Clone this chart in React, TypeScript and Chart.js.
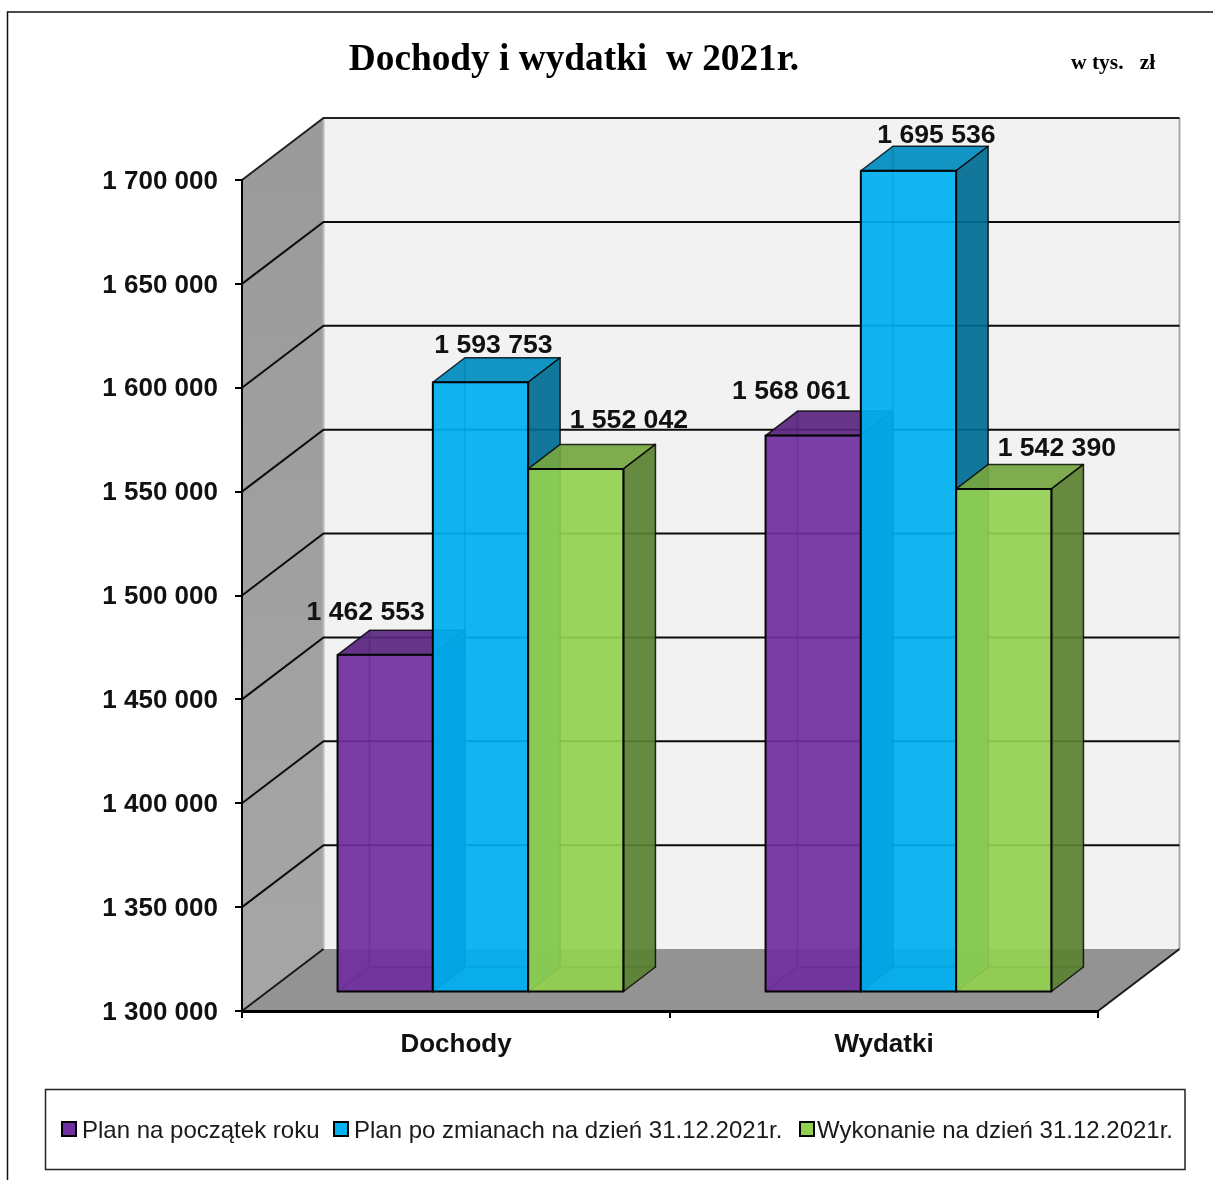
import React, { useEffect, useRef } from "react";
import { Chart, registerables } from "chart.js";

Chart.register(...registerables);

const categories = ["Dochody", "Wydatki"];
const planStart = [1462553, 1568061];
const planChanged = [1593753, 1695536];
const execution = [1552042, 1542390];
const seriesNames = [
  "Plan na początek roku",
  "Plan po zmianach na dzień 31.12.2021r.",
  "Wykonanie na dzień 31.12.2021r.",
];
const seriesRgb = [
  [112, 48, 160],
  [0, 176, 240],
  [146, 208, 80],
];
const titleText = "Dochody i wydatki  w 2021r.";
const unitText = "w tys.   zł";
const yMin = 1300000;
const yMax = 1700000;
const yStep = 50000;

// Hand-placed offsets of the value labels, [dataset][category], from the bar's front top centre.
const labelNudge = [
  [[-19.5, -42], [-22, -44]],
  [[13, -37], [28, -35]],
  [[53, -48], [53, -40]],
];
const legendSwatchX = [62, 334, 800];
const legendTextX = [82, 354, 817];

const WALL_DX = 81.5;
const WALL_DY = -62;
const BAR_SHIFT_X = 24.5;
const BAR_SHIFT_Y = -18.5;
const BAR_DX = 32;
const BAR_DY = -24.5;
const ALPHA = 0.92;

const SANS = '"Liberation Sans", Arial, sans-serif';
const SERIF = '"Liberation Serif", "Times New Roman", serif';

const spaced = (v: number) => String(v).replace(/\B(?=(\d{3})+$)/g, " ");
const shade = (rgb: number[], f: number, a = ALPHA) =>
  `rgba(${Math.round(rgb[0] * f)},${Math.round(rgb[1] * f)},${Math.round(rgb[2] * f)},${a})`;

function poly(ctx: CanvasRenderingContext2D, pts: number[][]) {
  ctx.beginPath();
  pts.forEach((p, i) => (i ? ctx.lineTo(p[0], p[1]) : ctx.moveTo(p[0], p[1])));
  ctx.closePath();
}

function barBox(el: any) {
  const w = el.width;
  const l = el.x - w / 2 + BAR_SHIFT_X;
  const r = el.x + w / 2 + BAR_SHIFT_X;
  const t = el.y + BAR_SHIFT_Y;
  const b = el.base + BAR_SHIFT_Y;
  return { l, r, t, b };
}

const scene3d = {
  id: "scene3d",
  beforeDraw(chart: any) {
    const ctx: CanvasRenderingContext2D = chart.ctx;
    const { left, right, bottom, top } = chart.chartArea;
    const bl = left + WALL_DX;
    const br = right + WALL_DX;
    const bt = top + WALL_DY;
    const bb = bottom + WALL_DY;

    // digits sit slightly low in the reference: nudge the native y tick labels
    const ys = chart.scales.y;
    if (!ys.__nudged) {
      const orig = ys.drawLabels.bind(ys);
      ys.drawLabels = (a: any) => {
        ctx.save();
        ctx.translate(0, 1.5);
        orig(a);
        ctx.restore();
      };
      ys.__nudged = true;
    }

    ctx.save();
    ctx.fillStyle = "#fff";
    ctx.fillRect(0, 0, chart.width, chart.height);

    // page frame
    ctx.strokeStyle = "#111";
    ctx.lineWidth = 1.5;
    ctx.beginPath();
    ctx.moveTo(7.5, chart.height);
    ctx.lineTo(7.5, 12);
    ctx.lineTo(chart.width, 12);
    ctx.stroke();

    // back wall
    ctx.fillStyle = "#f2f2f2";
    ctx.fillRect(bl, bt, br - bl, bb - bt);
    // left wall
    const g = ctx.createLinearGradient(0, top, 0, bottom);
    g.addColorStop(0, "#9b9b9b");
    g.addColorStop(1, "#a6a6a6");
    ctx.fillStyle = g;
    poly(ctx, [[left, top], [bl, bt], [bl, bb], [left, bottom]]);
    ctx.fill();
    // floor
    ctx.fillStyle = "#939393";
    poly(ctx, [[left, bottom], [bl, bb], [br, bb], [right, bottom]]);
    ctx.fill();

    // wall edges
    ctx.strokeStyle = "#b8b8b8";
    ctx.lineWidth = 2;
    ctx.beginPath();
    ctx.moveTo(bl, bt);
    ctx.lineTo(bl, bb);
    ctx.stroke();
    ctx.strokeStyle = "#a8a8a8";
    ctx.beginPath();
    ctx.moveTo(br, bt);
    ctx.lineTo(br, bb);
    ctx.stroke();
    ctx.strokeStyle = "#1a1a1a";
    ctx.beginPath();
    ctx.moveTo(left, bottom);
    ctx.lineTo(bl, bb);
    ctx.moveTo(right, bottom);
    ctx.lineTo(br, bb);
    ctx.stroke();

    // grid lines from the axis ticks
    const y = chart.scales.y;
    y.ticks.forEach((t: any) => {
      if (t.value === yMin) return;
      const py = y.getPixelForValue(t.value);
      ctx.strokeStyle = t.value === yMax ? "#222" : "#0c0c0c";
      ctx.lineWidth = 2;
      ctx.beginPath();
      ctx.moveTo(left, py);
      ctx.lineTo(bl, py + WALL_DY);
      ctx.lineTo(br, py + WALL_DY);
      ctx.stroke();
    });

    // heading
    ctx.fillStyle = "#000";
    ctx.textBaseline = "middle";
    ctx.textAlign = "center";
    ctx.font = `bold 37.3px ${SERIF}`;
    ctx.fillText(titleText, 574, 60);
    ctx.font = `bold 21.5px ${SERIF}`;
    ctx.textAlign = "left";
    ctx.fillText(unitText, 1071, 63.5);
    ctx.restore();
  },
  // Datasets are painted left to right so that later boxes overlap earlier ones.
  beforeDatasetsDraw(chart: any) {
    const ctx: CanvasRenderingContext2D = chart.ctx;
    ctx.save();
    chart.data.datasets.forEach((_: any, di: number) => {
      const meta = chart.getDatasetMeta(di);
      const rgb = seriesRgb[di];
      meta.data.forEach((el: any) => {
        const { l, r, b, t } = barBox(el);
        // hidden faces and edges, seen only faintly through the translucent front
        ctx.fillStyle = shade(rgb, 0.66, 0.12);
        poly(ctx, [[l, t], [l + BAR_DX, t + BAR_DY], [l + BAR_DX, b + BAR_DY], [l, b]]);
        ctx.fill();
        ctx.fillStyle = shade(rgb, 0.8, 0.25);
        poly(ctx, [[l, b], [l + BAR_DX, b + BAR_DY], [r + BAR_DX, b + BAR_DY], [r, b]]);
        ctx.fill();
        ctx.strokeStyle = "rgba(0,0,0,0.55)";
        ctx.lineWidth = 2;
        ctx.beginPath();
        ctx.moveTo(l, b);
        ctx.lineTo(l + BAR_DX, b + BAR_DY);
        ctx.lineTo(r + BAR_DX, b + BAR_DY);
        ctx.moveTo(l + BAR_DX, b + BAR_DY);
        ctx.lineTo(l + BAR_DX, t + BAR_DY);
        ctx.stroke();
      });
      ctx.save();
      ctx.translate(BAR_SHIFT_X, BAR_SHIFT_Y);
      meta.controller.draw();
      ctx.restore();
      meta.data.forEach((el: any) => {
        const { l, r, t, b } = barBox(el);
        ctx.lineJoin = "round";
        ctx.fillStyle = shade(rgb, 0.8);
        poly(ctx, [[l, t], [l + BAR_DX, t + BAR_DY], [r + BAR_DX, t + BAR_DY], [r, t]]);
        ctx.fill();
        ctx.strokeStyle = "rgba(0,0,0,0.8)";
        ctx.lineWidth = 1.5;
        ctx.stroke();
        ctx.fillStyle = shade(rgb, 0.62);
        poly(ctx, [[r, t], [r + BAR_DX, t + BAR_DY], [r + BAR_DX, b + BAR_DY], [r, b]]);
        ctx.fill();
        ctx.stroke();
        ctx.strokeStyle = "#050505";
        ctx.lineWidth = 2;
        ctx.strokeRect(l, t, r - l, b - t);
      });
    });

    // value labels
    ctx.fillStyle = "#111";
    ctx.font = `bold 26.6px ${SANS}`;
    ctx.textAlign = "center";
    ctx.textBaseline = "middle";
    chart.data.datasets.forEach((ds: any, di: number) => {
      chart.getDatasetMeta(di).data.forEach((el: any, ci: number) => {
        const { l, r, t } = barBox(el);
        const [nx, ny] = labelNudge[di][ci];
        ctx.fillText(spaced(ds.data[ci]), (l + r) / 2 + nx, t + ny);
      });
    });
    ctx.restore();
    return false;
  },
  afterDraw(chart: any) {
    const ctx: CanvasRenderingContext2D = chart.ctx;
    ctx.save();
    ctx.fillStyle = "#fff";
    ctx.strokeStyle = "#222";
    ctx.lineWidth = 1.5;
    ctx.fillRect(45.5, 1089.5, 1139.5, 80);
    ctx.strokeRect(45.5, 1089.5, 1139.5, 80);
    ctx.font = `24px ${SANS}`;
    ctx.textBaseline = "middle";
    ctx.textAlign = "left";
    chart.data.datasets.forEach((ds: any, i: number) => {
      ctx.fillStyle = shade(seriesRgb[i], 1, 1);
      ctx.strokeStyle = "#000";
      ctx.lineWidth = 2;
      ctx.fillRect(legendSwatchX[i], 1122, 14, 14);
      ctx.strokeRect(legendSwatchX[i], 1122, 14, 14);
      ctx.fillStyle = "#1a1a1a";
      ctx.fillText(ds.label, legendTextX[i], 1131);
    });
    ctx.restore();
  },
};

export default function App() {
  const ref = useRef<HTMLCanvasElement>(null);
  useEffect(() => {
    const seriesValues = [planStart, planChanged, execution];
    const chart = new Chart(ref.current as HTMLCanvasElement, {
      type: "bar",
      data: {
        labels: categories,
        datasets: seriesValues.map((data, i) => ({
          label: seriesNames[i],
          data,
          base: yMin,
          backgroundColor: shade(seriesRgb[i], 1),
          borderWidth: 0,
          inflateAmount: 0,
          categoryPercentage: 0.668,
          barPercentage: 1,
        })),
      } as any,
      options: {
        responsive: false,
        animation: false,
        devicePixelRatio: 1,
        layout: { padding: { top: 180, right: 115, left: 0, bottom: 0 } },
        plugins: { legend: { display: false }, title: { display: false }, tooltip: { enabled: false } },
        scales: {
          x: {
            afterFit: (s: any) => {
              s.height = 169;
            },
            grid: { drawOnChartArea: false, tickLength: 7, color: "#000", lineWidth: 2 },
            border: { color: "#000", width: 3 },
            ticks: {
              padding: 11,
              color: "#111",
              font: { family: SANS, size: 26, weight: "bold" },
              maxRotation: 0,
            },
          },
          y: {
            min: yMin,
            max: yMax,
            afterFit: (s: any) => {
              s.width = 242;
            },
            grid: { drawOnChartArea: false, tickLength: 7, color: "#000", lineWidth: 2 },
            border: { color: "#000", width: 2 },
            ticks: {
              stepSize: yStep,
              padding: 17,
              color: "#111",
              font: { family: SANS, size: 26, weight: "bold" },
              callback: (v: any) => spaced(v),
            },
          },
        },
      } as any,
      plugins: [scene3d],
    });
    return () => chart.destroy();
  }, []);
  return (
    <canvas
      ref={ref}
      width={1213}
      height={1180}
      style={{ position: "absolute", left: 0, top: 0, display: "block" }}
    />
  );
}
